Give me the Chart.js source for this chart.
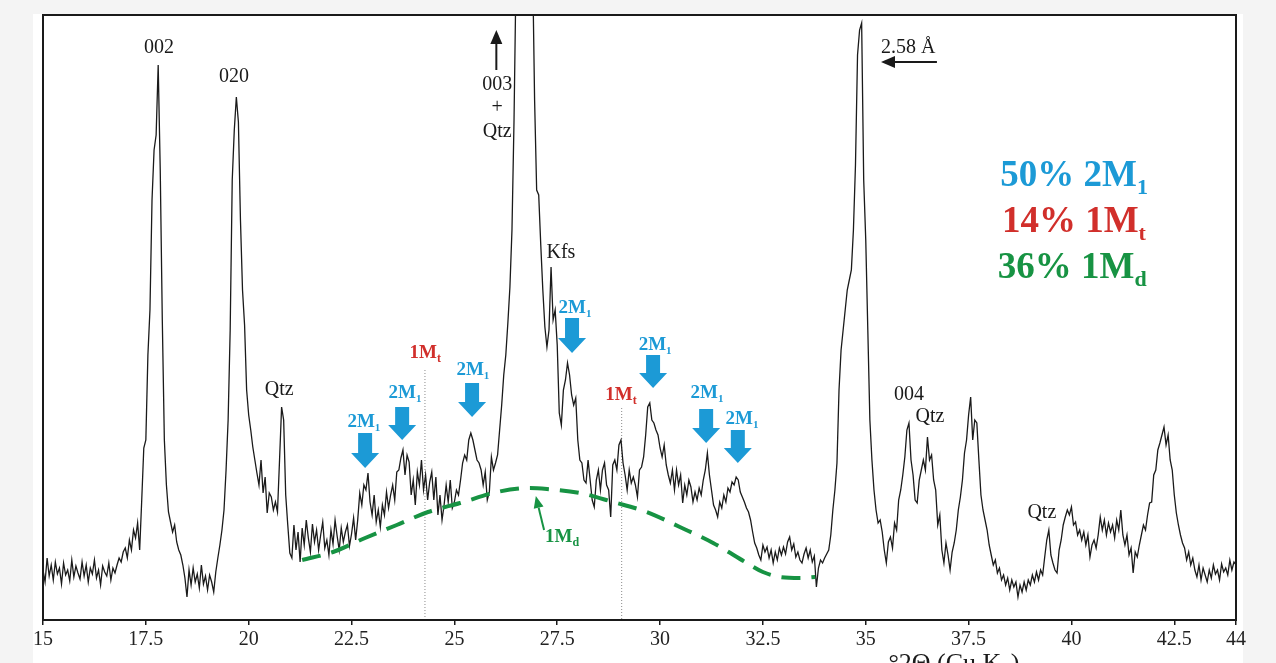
<!DOCTYPE html>
<html>
<head>
<meta charset="utf-8">
<script src="https://cdn.jsdelivr.net/npm/chart.js@4.4.1/dist/chart.umd.min.js"></script>
<style>
  html, body { margin: 0; padding: 0; background: #f4f4f4; }
  #xrd { display: block; }
</style>
</head>
<body>
<canvas id="xrd" width="1276" height="663"></canvas>
<script>
// scan grid (°2θ, CuKα)
const scanStart = 15;
const scanStep = 0.05;

// intensities, one array per 5° block (0.05° steps)
const seg15 = [
  50, 38, 62, 44, 55, 40, 58, 46, 52, 36, 57, 45, 50, 39, 60, 43, 54, 47, 41, 58,
  44, 55, 38, 52, 46, 60, 42, 50, 35, 54, 48, 44, 57, 40, 52, 47, 55, 62, 58, 68,
  72, 62, 80, 70, 90, 82, 97, 70, 120, 172, 180, 265, 310, 420, 470, 485, 555, 450, 300, 180,
  135, 108, 98, 88, 95, 78, 70, 65, 55, 42, 23, 50, 35, 52, 38, 46, 32, 55, 36, 44,
  30, 45, 38, 28, 48, 62, 75, 90, 110, 150, 200, 290, 440, 490, 523, 498, 400, 330, 295, 230
];
const seg20 = [
  205, 190, 173, 160, 147, 135, 160, 127, 143, 107, 127, 123, 110, 118, 108, 160, 213, 200, 125, 95,
  67, 62, 95, 70, 88, 58, 92, 75, 100, 82, 68, 96, 78, 90, 70, 85, 98, 72, 80, 65,
  90, 76, 100, 84, 70, 92, 78, 88, 95, 74, 86, 102, 80, 100, 127, 115, 135, 130, 147, 118,
  105, 125, 98, 110, 93, 115, 105, 128, 112, 125, 135, 120, 148, 150, 162, 170, 145, 165, 158, 125,
  140, 115, 148, 135, 160, 130, 145, 120, 138, 148, 120, 143, 105, 125, 100, 115, 135, 118, 140, 112
];
const seg25 = [
  118, 130, 125, 140, 157, 165, 160, 180, 187, 180, 170, 160, 157, 150, 135, 148, 120, 128, 163, 150,
  157, 165, 190, 215, 245, 265, 297, 333, 390, 500, 650, 780, 880, 950, 980, 950, 880, 780, 660, 520,
  430, 425, 375, 330, 293, 273, 290, 353, 300, 310, 275, 207, 195, 230, 240, 257, 245, 225, 215, 222,
  180, 160, 157, 140, 137, 160, 140, 120, 113, 140, 150, 130, 150, 157, 135, 130, 103, 155, 160, 150,
  175, 180, 157, 145, 130, 150, 137, 143, 135, 123, 150, 153, 163, 185, 213, 217, 200, 197, 190, 185
];
const seg30 = [
  172, 163, 175, 155, 145, 137, 150, 130, 150, 135, 145, 117, 135, 125, 140, 133, 118, 128, 120, 132,
  125, 140, 150, 167, 145, 130, 115, 110, 103, 118, 112, 125, 118, 132, 128, 138, 135, 143, 140, 128,
  123, 118, 112, 108, 100, 88, 77, 72, 65, 60, 75, 68, 73, 62, 70, 57, 68, 60, 72, 65,
  73, 66, 78, 83, 70, 76, 63, 68, 60, 57, 66, 72, 62, 70, 58, 64, 33, 52, 60, 57,
  62, 66, 70, 85, 110, 130, 157, 230, 270, 290, 310, 330, 340, 350, 390, 455, 565, 590, 597, 440
];
const seg35 = [
  380, 290, 200, 160, 130, 110, 97, 100, 88, 70, 57, 78, 83, 72, 97, 90, 120, 130, 145, 163,
  190, 197, 160, 145, 120, 117, 140, 150, 160, 150, 183, 160, 165, 140, 130, 95, 105, 70, 57, 77,
  65, 50, 68, 77, 90, 110, 123, 140, 167, 180, 205, 223, 180, 200, 197, 160, 125, 110, 100, 90,
  75, 65, 55, 60, 47, 52, 40, 45, 35, 42, 30, 40, 33, 38, 23, 35, 28, 38, 30, 40,
  35, 45, 38, 48, 40, 50, 45, 63, 80, 90, 65, 57, 50, 47, 70, 80, 95, 103, 110, 105
];
const seg40 = [
  113, 95, 98, 85, 90, 80, 88, 75, 85, 63, 75, 80, 72, 85, 103, 90, 100, 85, 97, 88,
  95, 82, 100, 90, 110, 85, 75, 85, 65, 72, 47, 68, 63, 75, 85, 95, 90, 105, 117, 118,
  145, 150, 170, 177, 185, 193, 175, 185, 160, 150, 125, 107, 95, 85, 77, 72, 60, 68, 55, 62,
  50, 43, 55, 40, 52, 45, 38, 50, 42, 55, 46, 50, 40, 56, 48, 52, 45, 60, 50, 58,
  55
];

const xTicks = [15, 17.5, 20, 22.5, 25, 27.5, 30, 32.5, 35, 37.5, 40, 42.5, 44];

// 1Md hump (dashed green curve)
const mdTheta = [21.3, 22.05, 22.83, 23.6, 24.36, 25.14, 26.04, 26.84, 27.25, 28.05, 28.86, 29.68, 30.48, 31.29, 32.11, 32.5, 32.91, 33.4, 33.77];
const mdCounts = [60, 68, 82, 95, 108, 117, 128, 132, 131, 127, 118, 108, 93, 77, 57, 48, 43, 42, 43];

// 1Mt reference lines (dotted)
const mtTheta = [24.285, 29.067];
const mtTop = [250, 212];

// annotations, in data units (°2θ, counts)
const peakNotes = [
  ['002', 17.82, 567], ['020', 19.64, 538], ['Qtz', 20.74, 225],
  ['003', 26.04, 530], ['+', 26.04, 507], ['Qtz', 26.04, 483],
  ['Kfs', 27.59, 362], ['2.58 Å', 36.03, 567],
  ['004', 36.05, 220], ['Qtz', 36.56, 198], ['Qtz', 39.28, 102]
];
const m2Labels = [[22.80, 193], [23.80, 222], [25.45, 245], [27.93, 307], [29.88, 270], [31.14, 222], [31.99, 196]];
const m2Arrows = [[22.83, 187, 152], [23.73, 213, 180], [25.43, 237, 203], [27.86, 302, 267], [29.83, 265, 232], [31.12, 211, 177], [31.89, 190, 157]];
const mtLabels = [[24.29, 262], [29.05, 220]];
const mdLabel = [27.62, 78];
const mixLines = [
  ['50% 2M', '1', 38.27, 434],
  ['14% 1M', 't', 38.31, 388],
  ['36% 1M', 'd', 38.21, 342]
];

const ink = '#1a1a1a';
const blue = '#1c9ad6';
const red = '#d12f2b';
const green = '#179343';
const serif = "'Liberation Serif', 'DejaVu Serif', serif";

const scanCounts = seg15.concat(seg20, seg25, seg30, seg35, seg40);
const scanPoints = scanCounts.map((c, i) => ({ x: +(scanStart + i * scanStep).toFixed(2), y: c }));

function runText(ctx, parts, x, y, align) {
  let w = 0;
  parts.forEach(p => { ctx.font = p[1]; w += ctx.measureText(p[0]).width; });
  let cx = align === 'center' ? x - w / 2 : x;
  ctx.textAlign = 'left';
  parts.forEach(p => {
    ctx.font = p[1];
    ctx.fillText(p[0], cx, y + (p[2] || 0));
    cx += ctx.measureText(p[0]).width;
  });
}

function blockArrow(ctx, cx, top, tip) {
  const shaft = 7, head = 14, headH = 15;
  ctx.beginPath();
  ctx.moveTo(cx - shaft, top);
  ctx.lineTo(cx + shaft, top);
  ctx.lineTo(cx + shaft, tip - headH);
  ctx.lineTo(cx + head, tip - headH);
  ctx.lineTo(cx, tip);
  ctx.lineTo(cx - head, tip - headH);
  ctx.lineTo(cx - shaft, tip - headH);
  ctx.closePath();
  ctx.fill();
}

function lineArrow(ctx, x1, y1, x2, y2, w, hl, hw) {
  const a = Math.atan2(y2 - y1, x2 - x1);
  const bx = x2 - Math.cos(a) * hl, by = y2 - Math.sin(a) * hl;
  ctx.lineWidth = w;
  ctx.beginPath();
  ctx.moveTo(x1, y1);
  ctx.lineTo(bx, by);
  ctx.stroke();
  ctx.beginPath();
  ctx.moveTo(x2, y2);
  ctx.lineTo(bx + Math.sin(a) * hw, by - Math.cos(a) * hw);
  ctx.lineTo(bx - Math.sin(a) * hw, by + Math.cos(a) * hw);
  ctx.closePath();
  ctx.fill();
}

const panel = {
  id: 'panel',
  beforeDraw(chart) {
    const ctx = chart.ctx;
    ctx.save();
    ctx.fillStyle = '#ffffff';
    ctx.fillRect(33, 14, 1210, chart.height - 14);
    ctx.restore();
  }
};

const notes = {
  id: 'notes',
  afterDraw(chart) {
    const ctx = chart.ctx;
    const xs = chart.scales.x, ys = chart.scales.y;
    const X = v => xs.getPixelForValue(v);
    const Y = v => ys.getPixelForValue(v);
    const a = chart.chartArea;
    ctx.save();

    // frame
    ctx.strokeStyle = ink;
    ctx.lineWidth = 2;
    ctx.strokeRect(a.left, a.top, a.right - a.left, a.bottom - a.top);

    // black peak labels
    ctx.fillStyle = ink;
    ctx.textBaseline = 'alphabetic';
    peakNotes.forEach(n => runText(ctx, [[n[0], '20px ' + serif]], X(n[1]), Y(n[2]), 'center'));

    // off-scale arrow for 003 and the 2.58 Å arrow
    ctx.strokeStyle = ink;
    ctx.fillStyle = ink;
    lineArrow(ctx, X(26.02), Y(550), X(26.02), Y(590), 2, 14, 6);
    lineArrow(ctx, X(36.73), Y(558), X(35.37), Y(558), 2, 14, 6);

    // 2M1 markers
    ctx.fillStyle = blue;
    m2Labels.forEach(l => runText(ctx, [['2M', 'bold 19px ' + serif], ['1', 'bold 11px ' + serif, 4]], X(l[0]), Y(l[1]), 'center'));
    m2Arrows.forEach(r => blockArrow(ctx, X(r[0]), Y(r[1]), Y(r[2])));

    // 1Mt markers
    ctx.fillStyle = red;
    mtLabels.forEach(l => runText(ctx, [['1M', 'bold 19px ' + serif], ['t', 'bold 12px ' + serif, 4]], X(l[0]), Y(l[1]), 'center'));

    // 1Md marker
    ctx.fillStyle = green;
    ctx.strokeStyle = green;
    runText(ctx, [['1M', 'bold 19px ' + serif], ['d', 'bold 12px ' + serif, 4]], X(mdLabel[0]), Y(mdLabel[1]), 'center');
    lineArrow(ctx, X(27.18), Y(90), X(26.98), Y(124), 2, 12, 5);

    // polytype proportions
    const mixColors = [blue, red, green];
    mixLines.forEach((m, i) => {
      ctx.fillStyle = mixColors[i];
      runText(ctx, [[m[0], 'bold 37px ' + serif], [m[1], 'bold 22px ' + serif, 8]], X(m[2]), Y(m[3]), 'left');
    });

    // axis title (cut by the bottom edge)
    ctx.fillStyle = ink;
    ctx.textBaseline = 'top';
    runText(ctx, [['°2Θ (Cu K', '26px ' + serif], ['α', '18px ' + serif, 8], [')', '26px ' + serif]], X(35.55), a.bottom + 31, 'left');
    ctx.restore();
  }
};

const datasets = [
  {
    data: scanPoints,
    borderColor: ink,
    borderWidth: 1.3,
    pointRadius: 0,
    tension: 0,
    order: 2
  },
  {
    data: mdTheta.map((t, i) => ({ x: t, y: mdCounts[i] })),
    borderColor: green,
    borderWidth: 4,
    borderDash: [19, 11],
    pointRadius: 0,
    cubicInterpolationMode: 'monotone',
    order: 1
  }
];
mtTheta.forEach((t, i) => {
  datasets.push({
    data: [{ x: t, y: mtTop[i] }, { x: t, y: 0 }],
    borderColor: '#8a8a8a',
    borderWidth: 1,
    borderDash: [1, 2],
    pointRadius: 0,
    order: 3
  });
});

new Chart(document.getElementById('xrd'), {
  type: 'line',
  data: { datasets },
  options: {
    responsive: false,
    animation: false,
    devicePixelRatio: 1,
    events: [],
    layout: { padding: { left: 43, top: 15, right: 40, bottom: 0 } },
    plugins: { legend: { display: false }, tooltip: { enabled: false } },
    scales: {
      x: {
        type: 'linear',
        min: 15,
        max: 44,
        afterBuildTicks: s => { s.ticks = xTicks.map(v => ({ value: v })); },
        afterFit: s => { s.height = 43; },
        grid: { drawOnChartArea: false, drawTicks: true, tickLength: 5, color: ink, lineWidth: 1.5 },
        border: { display: false },
        ticks: {
          color: '#222',
          font: { family: 'Liberation Serif', size: 20 },
          padding: 3,
          maxRotation: 0,
          autoSkip: false,
          callback: v => String(v)
        }
      },
      y: { type: 'linear', min: 0, max: 605, display: false }
    }
  },
  plugins: [panel, notes]
});
</script>
</body>
</html>
